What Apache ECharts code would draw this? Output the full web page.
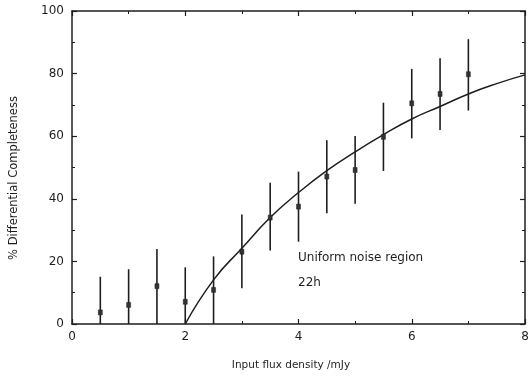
<!DOCTYPE html>
<html><head><meta charset="utf-8">
<script src="https://cdn.jsdelivr.net/npm/echarts@6/dist/echarts.min.js"></script>
<style>html,body{margin:0;padding:0;background:#fff}#c{width:532px;height:377px}</style>
</head><body><div id="c"></div>
<script>
const fluxX = [0.5, 1, 1.5, 2, 2.5, 3, 3.5, 4, 4.5, 5, 5.5, 6, 6.5, 7];
const completeness = [3.7, 6.1, 12.1, 7.1, 10.9, 23.1, 34.0, 37.5, 47.1, 49.2, 59.8, 70.5, 73.5, 79.8];
const errLow = [0, 0, 0, 0, 0, 11.4, 23.5, 26.3, 35.4, 38.4, 48.9, 59.3, 62.0, 68.2];
const errHigh = [15.1, 17.5, 24.0, 18.1, 21.6, 35.0, 45.1, 48.7, 58.7, 60.1, 70.7, 81.5, 84.9, 91.0];
const curveX = [2, 2.5, 3, 3.5, 4, 4.5, 5, 5.5, 6, 6.5, 7, 7.5, 8];
const curveY = [0, 14.1, 24.2, 34.0, 42.0, 49.0, 55.0, 60.5, 65.5, 69.5, 73.5, 76.8, 79.6];
const xTicks = [0, 2, 4, 6, 8];
const yTicks = [0, 20, 40, 60, 80, 100];

const ink = '#1e1e1e';
const font = 'DejaVu Sans';
const chart = echarts.init(document.getElementById('c'));
const axCommon = {
  axisLine: {show: true, onZero: false, lineStyle: {color: ink, width: 1.5}},
  axisTick: {show: true, inside: true, length: 5, lineStyle: {color: ink, width: 1.2}},
  minorTick: {show: true, splitNumber: 2, length: 3, lineStyle: {color: ink, width: 1}},
  splitLine: {show: false}
};
chart.setOption({
  animation: false,
  backgroundColor: '#fff',
  grid: {left: 72, right: 7, top: 11, bottom: 53},
  xAxis: [
    Object.assign({type: 'value', min: 0, max: 8, interval: 2, position: 'bottom',
      axisLabel: {color: ink, fontFamily: font, fontSize: 12, margin: 7,
        formatter: v => xTicks.includes(v) ? String(v) : ''}}, axCommon),
    Object.assign({type: 'value', min: 0, max: 8, interval: 2, position: 'top',
      axisLabel: {show: false}}, axCommon)
  ],
  yAxis: [
    Object.assign({type: 'value', min: 0, max: 100, interval: 20, position: 'left',
      axisLabel: {color: ink, fontFamily: font, fontSize: 12, margin: 8,
        formatter: v => yTicks.includes(v) ? String(v) : ''}}, axCommon),
    Object.assign({type: 'value', min: 0, max: 100, interval: 20, position: 'right',
      axisLabel: {show: false}}, axCommon)
  ],
  series: [
    {
      type: 'line', smooth: 0.5, showSymbol: false, symbol: 'none',
      data: curveX.map((x, i) => [x, curveY[i]]),
      lineStyle: {color: ink, width: 1.5}, z: 3
    },
    {
      type: 'custom',
      data: fluxX.map((x, i) => [x, completeness[i], errLow[i], errHigh[i]]),
      renderItem: function (params, api) {
        const x = api.value(0);
        const c = api.coord([x, api.value(1)]);
        const lo = api.coord([x, api.value(2)]);
        const hi = api.coord([x, api.value(3)]);
        return {
          type: 'group',
          children: [
            {type: 'line', shape: {x1: lo[0], y1: lo[1], x2: hi[0], y2: hi[1]},
              style: {stroke: ink, lineWidth: 1.6}},
            {type: 'rect', shape: {x: c[0] - 2, y: c[1] - 2.5, width: 4, height: 5},
              style: {fill: '#333', stroke: ink, lineWidth: 0.5}}
          ]
        };
      },
      z: 4
    }
  ],
  graphic: [
    {type: 'text', left: 298, top: 252, style: {text: 'Uniform noise region', fill: ink, font: '12px "DejaVu Sans"'}},
    {type: 'text', left: 298, top: 277, style: {text: '22h', fill: ink, font: '12px "DejaVu Sans"'}},
    {type: 'text', x: 291, y: 365, style: {text: 'Input flux density /mJy', fill: ink, font: '10.5px "DejaVu Sans"', align: 'center', verticalAlign: 'middle'}},
    {type: 'text', x: 14, y: 178, rotation: Math.PI / 2,
      style: {text: '% Differential Completeness', fill: ink, font: '11.5px "DejaVu Sans"', align: 'center', verticalAlign: 'middle'}}
  ]
});
</script></body></html>
